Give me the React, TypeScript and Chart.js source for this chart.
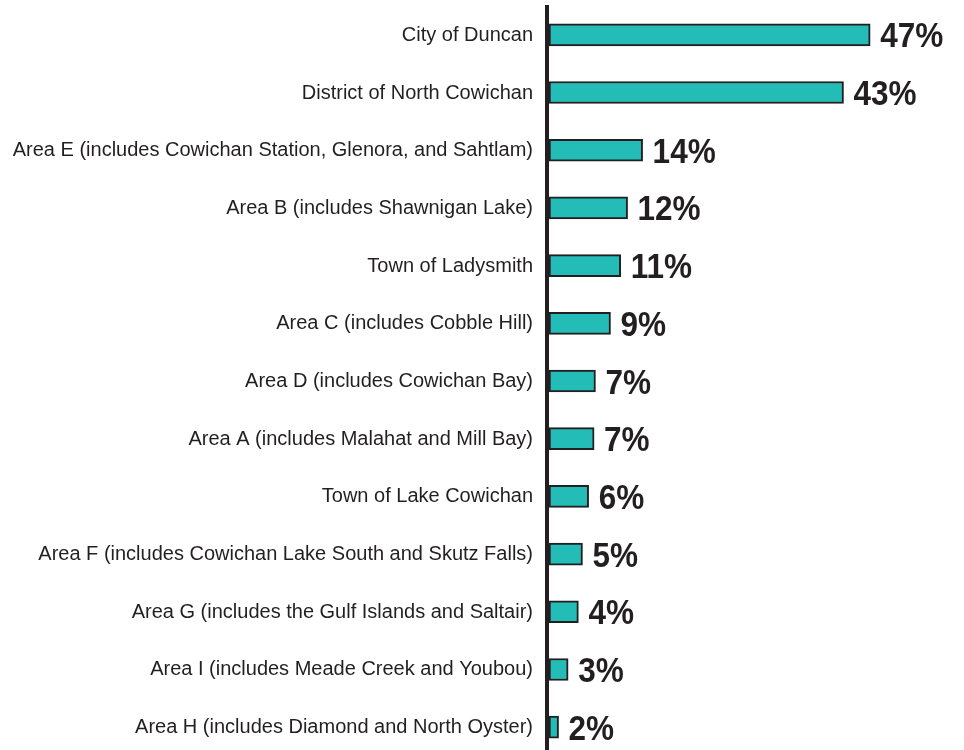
import { useEffect, useRef } from "react";
import { Chart, registerables } from "chart.js";

Chart.register(...registerables);

const categories = [
  "City of Duncan",
  "District of North Cowichan",
  "Area E (includes Cowichan Station, Glenora, and Sahtlam)",
  "Area B (includes Shawnigan Lake)",
  "Town of Ladysmith",
  "Area C (includes Cobble Hill)",
  "Area D (includes Cowichan Bay)",
  "Area A (includes Malahat and Mill Bay)",
  "Town of Lake Cowichan",
  "Area F (includes Cowichan Lake South and Skutz Falls)",
  "Area G (includes the Gulf Islands and Saltair)",
  "Area I (includes Meade Creek and Youbou)",
  "Area H (includes Diamond and North Oyster)",
];

const values = [47.0, 43.1, 13.7, 11.5, 10.5, 9.0, 6.8, 6.6, 5.8, 4.9, 4.3, 2.8, 1.4];

const valueLabels = ["47%", "43%", "14%", "12%", "11%", "9%", "7%", "7%", "6%", "5%", "4%", "3%", "2%"];

const xMax = 60;

const TEXT = "#231f20";
const TEAL = "#23bcb7";
const FONT = "'Liberation Sans', Arial, Helvetica, sans-serif";

const labelPlugin = {
  id: "customLabels",
  afterDatasetsDraw(chart: any) {
    const ctx = chart.ctx;
    const meta = chart.getDatasetMeta(0);
    const left = chart.chartArea.left;
    ctx.save();
    ctx.fillStyle = TEXT;
    // axis line
    ctx.fillRect(left - 4, 5, 4, chart.height);
    // category labels
    ctx.font = `20px ${FONT}`;
    ctx.textAlign = "right";
    ctx.textBaseline = "alphabetic";
    meta.data.forEach((bar: any, i: number) => {
      ctx.fillText(categories[i], left - 16, bar.y + 6);
    });
    // value labels
    ctx.font = `bold 35px ${FONT}`;
    ctx.textAlign = "left";
    meta.data.forEach((bar: any, i: number) => {
      ctx.save();
      ctx.translate(bar.x + 10, bar.y + 12.5);
      ctx.scale(0.9, 1);
      ctx.fillText(valueLabels[i], 0, 0);
      ctx.restore();
    });
    ctx.restore();
  },
};

export default function App() {
  const ref = useRef<HTMLCanvasElement | null>(null);
  useEffect(() => {
    if (!ref.current) return;
    const chart = new Chart(ref.current, {
      type: "bar",
      data: {
        labels: categories,
        datasets: [
          {
            data: values,
            backgroundColor: TEAL,
            borderColor: TEXT,
            borderWidth: 2,
            borderSkipped: false,
            barThickness: 22,
          },
        ],
      },
      options: {
        indexAxis: "y",
        animation: false,
        responsive: true,
        maintainAspectRatio: false,
        layout: { padding: { top: 6, right: 5, bottom: 0, left: 0 } },
        plugins: { legend: { display: false }, tooltip: { enabled: false } },
        scales: {
          x: { display: false, min: 0, max: xMax },
          y: {
            afterFit(scale: any) {
              scale.width = 549;
            },
            grid: { display: false, drawTicks: false },
            border: { display: false },
            ticks: { display: false },
          },
        },
      },
      plugins: [labelPlugin],
    });
    return () => chart.destroy();
  }, []);
  return (
    <div style={{ position: "fixed", left: 0, top: 0, width: 964, height: 750, overflow: "hidden", background: "#fff" }}>
      <div style={{ position: "relative", width: 964, height: 756 }}>
        <canvas ref={ref} />
      </div>
    </div>
  );
}
